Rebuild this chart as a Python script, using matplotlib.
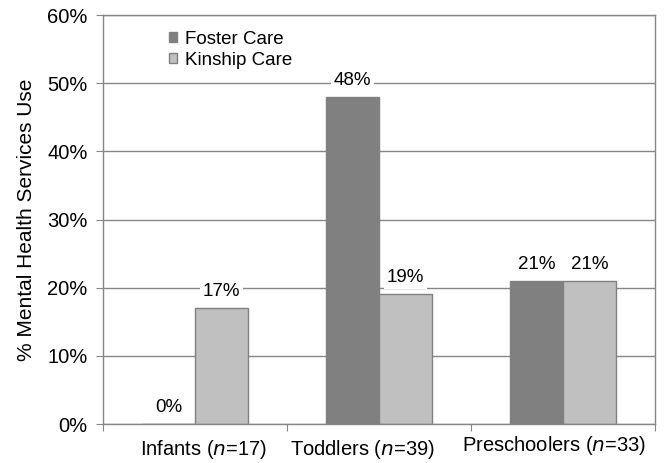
import matplotlib
matplotlib.use("Agg")
import matplotlib.pyplot as plt
from matplotlib.patches import Patch
from matplotlib.transforms import ScaledTranslation
import numpy as np

plt.rcParams['font.family'] = ['Liberation Sans', 'DejaVu Sans']

categories = ["Infants", "Toddlers", "Preschoolers"]
sample_sizes = [17, 39, 33]
foster_care = [0, 48, 21]
kinship_care = [17, 19, 21]
series_names = ["Foster Care", "Kinship Care"]
y_ticks = [0, 10, 20, 30, 40, 50, 60]

FOSTER = "#808080"
KINSHIP = "#C0C0C0"
EDGE = "#808080"
GRID = "#868686"

fig = plt.figure(figsize=(6.71, 4.63), dpi=100)
ax = fig.add_axes([0.1535, 0.0842, 0.8226, 0.8834])

x = np.arange(len(categories))
w = 0.288
b1 = ax.bar(x - w / 2, foster_care, w, color=FOSTER, edgecolor=FOSTER, linewidth=1, zorder=2)
b2 = ax.bar(x + w / 2, kinship_care, w, color=KINSHIP, edgecolor=EDGE, linewidth=1, zorder=2)

for bars, vals in ((b1, foster_care), (b2, kinship_care)):
    for bar, v in zip(bars, vals):
        ax.annotate(f"{v}%", (bar.get_x() + bar.get_width() / 2, v),
                    xytext=(0, 12), textcoords="offset points",
                    ha="center", va="center", fontsize=13.5, color="black",
                    bbox=dict(boxstyle="square,pad=0.15", fc="white", ec="none"),
                    zorder=4)

ax.set_xlim(-0.5, len(categories) - 0.5)
ax.set_ylim(0, 60)
ax.set_yticks(y_ticks)
ax.set_yticklabels([f"{t}%" for t in y_ticks], fontsize=14.5)
ax.yaxis.grid(True, color=GRID, linewidth=1, zorder=0)
ax.set_axisbelow(True)

# category boundaries carry the tick marks, centres carry the labels
ax.set_xticks(np.arange(len(categories) + 1) - 0.5)
ax.set_xticklabels([])
ax.set_xticks(x, minor=True)
ax.set_xticklabels([rf"{c} ($\it{{n}}$={n})" for c, n in zip(categories, sample_sizes)],
                   minor=True, fontsize=14.5)
ax.tick_params(axis="x", which="minor", length=0, pad=10)
ax.tick_params(axis="x", which="major", length=5, color=GRID, direction="out")
ax.tick_params(axis="y", length=5, color=GRID, direction="out", pad=6)

# nudge the category labels (pixel offsets at 100 dpi)
label_shift = [(8, 0), (-17, 0), (-9, 4)]
for lab, (dx, dy) in zip(ax.xaxis.get_minorticklabels(), label_shift):
    lab.set_transform(lab.get_transform() + ScaledTranslation(dx / 100, dy / 100, fig.dpi_scale_trans))

for s in ax.spines.values():
    s.set_color(GRID)
    s.set_linewidth(1)

ax.set_ylabel("% Mental Health Services Use", fontsize=15, labelpad=8)

handles = [Patch(facecolor=FOSTER, edgecolor=FOSTER), Patch(facecolor=KINSHIP, edgecolor=EDGE)]
ax.legend(handles, series_names, loc="upper left", bbox_to_anchor=(0.102, 0.985),
          frameon=False, fontsize=13.5, handlelength=0.45, handleheight=0.45,
          handletextpad=0.4, labelspacing=0.22, borderpad=0)

fig.savefig("out.png", dpi=100)
